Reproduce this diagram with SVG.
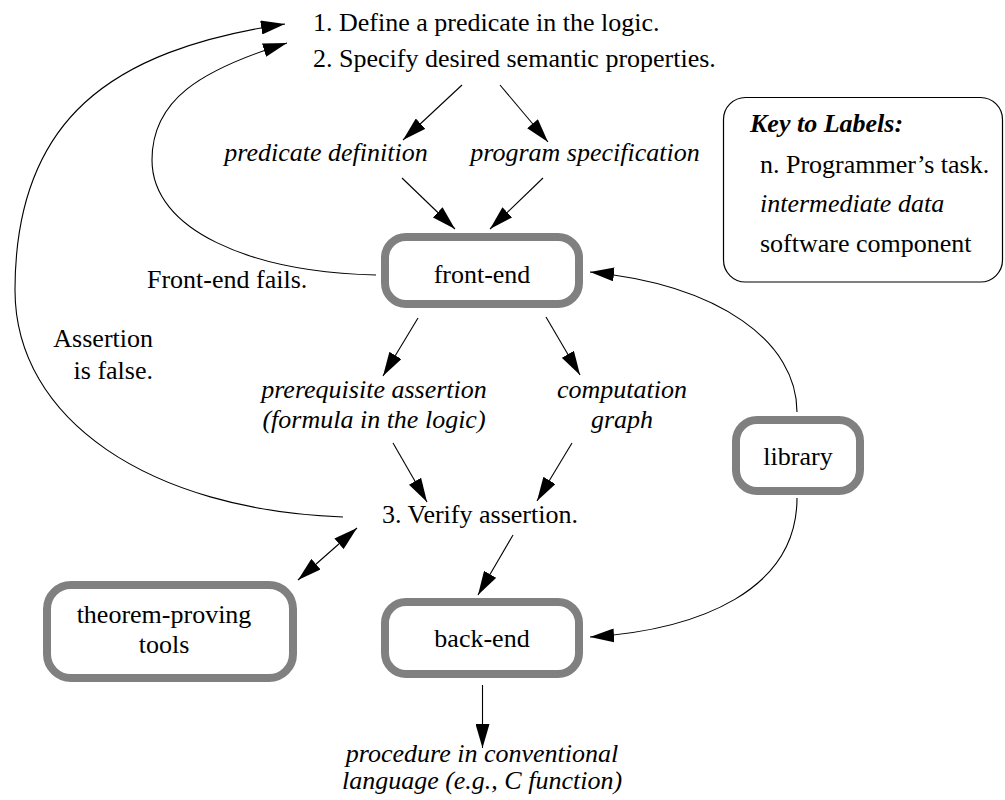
<svg xmlns="http://www.w3.org/2000/svg" width="1005" height="800" viewBox="0 0 1005 800">
  <defs>
    <style>
      text { font-family: 'Liberation Serif', 'DejaVu Serif', 'Noto Serif', serif; font-size: 26px; fill: #000; }
      .it { font-style: italic; }
      .mid { text-anchor: middle; }
      .end { text-anchor: end; }
      .key-title { font-style: italic; font-weight: bold; }
      .comp { fill: #fff; stroke: #808080; stroke-width: 8; }
      .conn { fill: none; stroke: #000; stroke-width: 1.1; marker-end: url(#head); }
      .both { marker-start: url(#head); }
    </style>
    <marker id="head" markerUnits="userSpaceOnUse" markerWidth="25" markerHeight="14" refX="24" refY="7" orient="auto-start-reverse">
      <path d="M0,0 L24,7 L0,14 z" fill="#000"/>
    </marker>
  </defs>
  <rect width="1005" height="800" fill="#fff"/>

  <g font-family="Liberation Serif, DejaVu Serif, serif">
  <!-- programmer's tasks -->
  <g id="task-define">
    <text x="313" y="31">1. Define a predicate in the logic.</text>
  </g>
  <g id="task-specify">
    <text x="313" y="67">2. Specify desired semantic properties.</text>
  </g>
  <g id="task-verify">
    <text x="382" y="523">3. Verify assertion.</text>
  </g>

  <!-- intermediate data -->
  <g id="data-predicate">
    <text class="it mid" x="326" y="161">predicate definition</text>
  </g>
  <g id="data-spec">
    <text class="it mid" x="585" y="161">program specification</text>
  </g>
  <g id="data-assertion">
    <text class="it mid" x="374" y="398">prerequisite assertion</text>
    <text class="it mid" x="374" y="428">(formula in the logic)</text>
  </g>
  <g id="data-graph">
    <text class="it mid" x="622" y="398">computation</text>
    <text class="it mid" x="622" y="428">graph</text>
  </g>
  <g id="data-procedure">
    <text class="it mid" x="482" y="762">procedure in conventional</text>
    <text class="it mid" x="482" y="789">language (e.g., C function)</text>
  </g>

  <!-- software components -->
  <g id="front-end">
    <rect class="comp" x="385" y="237" width="194" height="67" rx="21"/>
    <text class="mid" x="482" y="283">front-end</text>
  </g>
  <g id="back-end">
    <rect class="comp" x="385" y="602" width="194" height="72" rx="21"/>
    <text class="mid" x="482" y="647">back-end</text>
  </g>
  <g id="library">
    <rect class="comp" x="736" y="420" width="124" height="71" rx="21"/>
    <text class="mid" x="798" y="465">library</text>
  </g>
  <g id="theorem-provers">
    <rect class="comp" x="47" y="585" width="246" height="93" rx="24"/>
    <text class="mid" x="164" y="623">theorem-proving</text>
    <text class="mid" x="164" y="653">tools</text>
  </g>

  <!-- legend -->
  <g id="key">
    <rect x="723.5" y="97.5" width="279" height="184.5" rx="22" fill="#fff" stroke="#000" stroke-width="1.2"/>
    <text class="key-title" x="750" y="132">Key to Labels:</text>
    <text x="760" y="173">n. Programmer’s task.</text>
    <text class="it" x="760" y="212">intermediate data</text>
    <text x="760" y="252">software component</text>
  </g>

  <!-- edge labels -->
  <g id="labels">
    <text x="147" y="288">Front-end fails.</text>
    <text class="end" x="153" y="347">Assertion</text>
    <text class="end" x="153" y="379">is false.</text>
  </g>
  </g>

  <!-- connectors -->
  <g id="connectors">
    <line class="conn" x1="462" y1="85" x2="403" y2="140"/>
    <line class="conn" x1="500" y1="85" x2="548" y2="142"/>
    <line class="conn" x1="402" y1="178" x2="455" y2="229"/>
    <line class="conn" x1="543" y1="178" x2="490" y2="229"/>
    <line class="conn" x1="418" y1="318" x2="383" y2="376"/>
    <line class="conn" x1="546" y1="317" x2="580" y2="375"/>
    <line class="conn" x1="393" y1="443" x2="427" y2="502"/>
    <line class="conn" x1="572" y1="443" x2="537" y2="501"/>
    <line class="conn" x1="513" y1="535" x2="478" y2="595"/>
    <line class="conn" x1="482.5" y1="685" x2="482.5" y2="748"/>
    <line class="conn both" x1="298" y1="580" x2="357" y2="528"/>
    <!-- front-end failure loops back to tasks 1 and 2 -->
    <path class="conn" d="M376,275 C250,272 152,230 152,160 C152,100 200,70 287,43"/>
    <!-- false assertion loops back to tasks 1 and 2 -->
    <path class="conn" d="M343,517 C150,510 15,420 15,290 C15,120 110,50 285,24"/>
    <!-- library feeds front-end and back-end -->
    <path class="conn" d="M797,412 C797,342 720,285 590,272"/>
    <path class="conn" d="M797,498 C797,590 700,630 590,637"/>
  </g>
</svg>
